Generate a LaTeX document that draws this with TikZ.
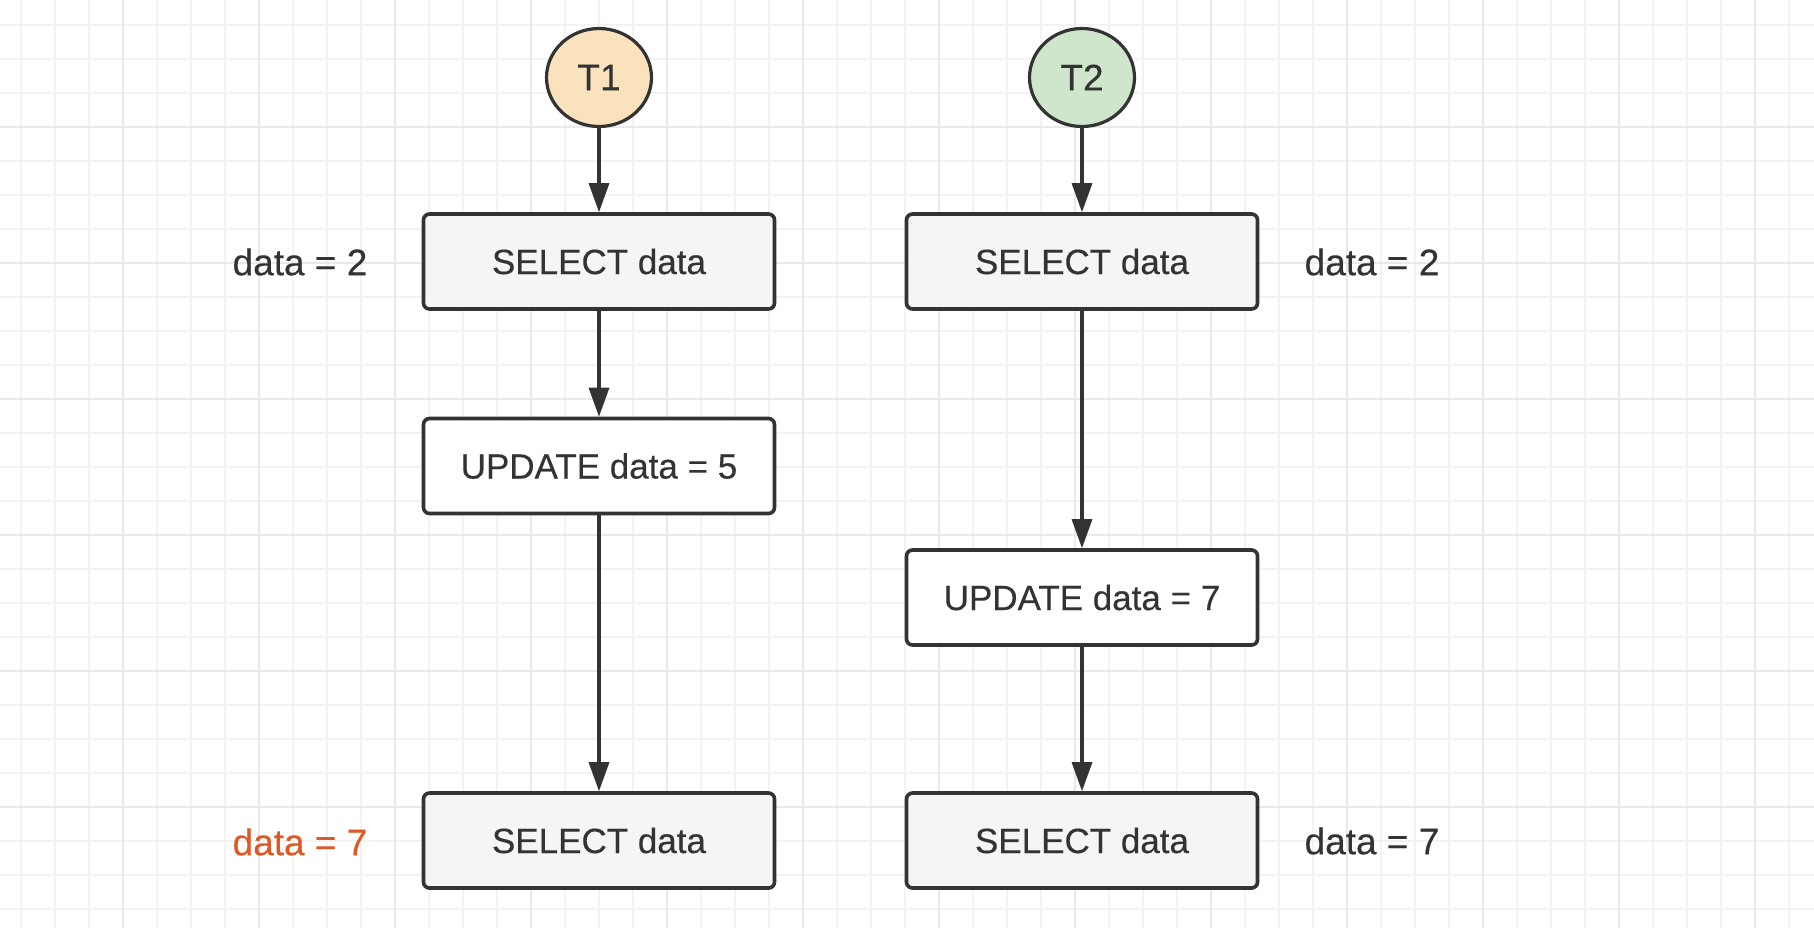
\documentclass[tikz,border=0pt]{standalone}
\usepackage{fontspec}
\setmainfont{Liberation Sans}[FakeBold=0.35]
\usepackage{tikz}
\usetikzlibrary{shapes.geometric,arrows.meta}
\definecolor{ink}{HTML}{333333}
\definecolor{gridminor}{HTML}{F3F3F3}
\definecolor{gridmajor}{HTML}{E9E9E9}
\definecolor{tonefill}{HTML}{FAE3BC}
\definecolor{ttwofill}{HTML}{CFE6CD}
\definecolor{selfill}{HTML}{F5F5F5}
\definecolor{warn}{HTML}{DD5A27}

\begin{document}
\begin{tikzpicture}[x=0.5pt,y=-0.5pt,
    txn/.style={ellipse,draw=ink,line width=1.6pt,minimum width=52.5pt,minimum height=49pt,inner sep=0pt,text=ink,font=\fontsize{18.5pt}{22pt}\selectfont},
    stmt/.style={rectangle,rounded corners=3pt,draw=ink,line width=1.8pt,minimum width=175.5pt,minimum height=47.5pt,inner sep=0pt,text=ink,font=\fontsize{17.5pt}{21pt}\selectfont},
    val/.style={inner sep=0pt,text=ink,font=\fontsize{18.5pt}{22pt}\selectfont},
    flow/.style={draw=ink,line width=1.6pt,-{Triangle[length=14.5pt,width=10pt]}}]
    \fill[white] (0,0) rectangle (1814,928);
    \path[use as bounding box] (0,0) rectangle (1814,928);
    \foreach \gx in {21,55,...,1814} \draw[gridminor,line width=0.75pt] (\gx,0) -- (\gx,928);
    \foreach \gy in {25,59,...,928} \draw[gridminor,line width=0.75pt] (0,\gy) -- (1814,\gy);
    \foreach \gx in {123,259,...,1814} \draw[gridmajor,line width=1pt] (\gx,0) -- (\gx,928);
    \foreach \gy in {127,263,...,928} \draw[gridmajor,line width=1pt] (0,\gy) -- (1814,\gy);

    \node[txn,fill=tonefill] (t1) at (599,77.5) {T1};
    \node[stmt,fill=selfill] (t1sel) at (599,261.5) {SELECT data};
    \node[stmt,fill=white] (t1upd) at (599,466) {UPDATE data = 5};
    \node[stmt,fill=selfill] (t1selb) at (599,840.5) {SELECT data};

    \node[txn,fill=ttwofill] (t2) at (1082,77.5) {T2};
    \node[stmt,fill=selfill] (t2sel) at (1082,261.5) {SELECT data};
    \node[stmt,fill=white] (t2upd) at (1082,597.5) {UPDATE data = 7};
    \node[stmt,fill=selfill] (t2selb) at (1082,840.5) {SELECT data};

    \node[val] (t1vala) at (300,262) {data = 2};
    \node[val,text=warn] (t1valb) at (300,842) {data = 7};
    \node[val] (t2vala) at (1372,262) {data = 2};
    \node[val] (t2valb) at (1372,841) {data = 7};

    \draw[flow] (t1) -- (t1sel);
    \draw[flow] (t1sel) -- (t1upd);
    \draw[flow] (t1upd) -- (t1selb);
    \draw[flow] (t2) -- (t2sel);
    \draw[flow] (t2sel) -- (t2upd);
    \draw[flow] (t2upd) -- (t2selb);
\end{tikzpicture}
\end{document}
